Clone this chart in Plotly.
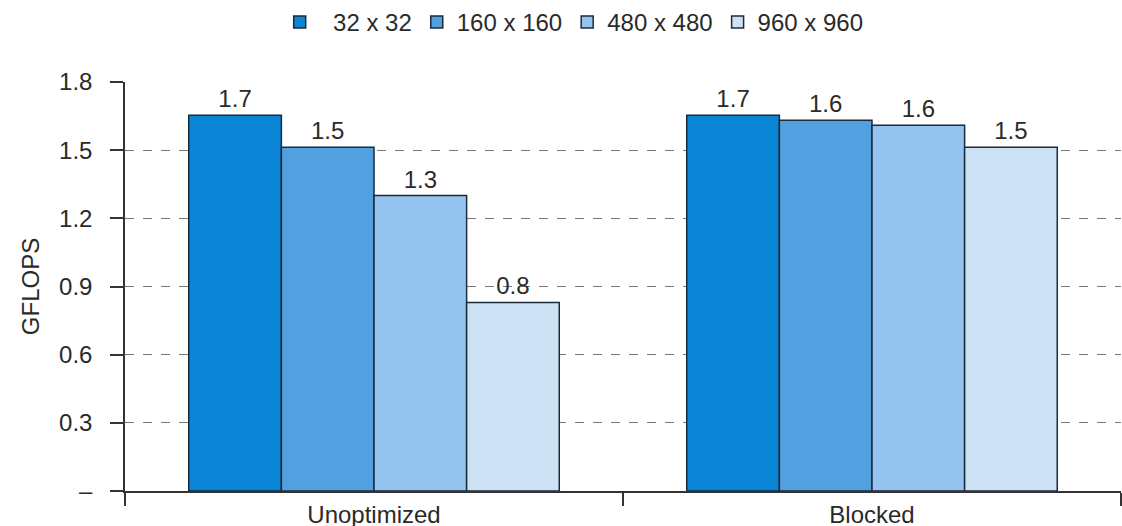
import plotly.graph_objects as go

categories = ["Unoptimized", "Blocked"]
series_names = ["\u00a0\u00a032 x 32", "160 x 160", "480 x 480", "960 x 960"]
values_32 = [1.654, 1.654]
values_160 = [1.513, 1.632]
values_480 = [1.30, 1.61]
values_960 = [0.83, 1.513]
colors = ["#0b86d6", "#53a0e1", "#94c3ef", "#cde1f5"]
ytick_vals = [0, 0.3, 0.6, 0.9, 1.2, 1.5, 1.8]
ytick_text = ["\u2013", "0.3", "0.6", "0.9", "1.2", "1.5", "1.8"]

FONT = "Liberation Sans, Arial, sans-serif"
TXT = "#2a2a2a"

fig = go.Figure()
for name, vals, col in zip(series_names, [values_32, values_160, values_480, values_960], colors):
    fig.add_trace(go.Bar(
        x=categories, y=vals, name=name,
        marker=dict(color=col, line=dict(color="#1c2b3a", width=1.5)),
        texttemplate="%{y:.1f}", textposition="outside",
        textfont=dict(size=24, color=TXT, family=FONT),
        cliponaxis=False,
    ))

fig.update_layout(
    width=1122, height=526,
    barmode="group", bargap=0.256, bargroupgap=0,
    plot_bgcolor="white", paper_bgcolor="white",
    margin=dict(l=125, r=1, t=82, b=35),
    font=dict(family=FONT, size=24, color=TXT),
    showlegend=True,
    legend=dict(orientation="h", x=0.451, xanchor="center", y=1.0, yref="container",
                yanchor="top", font=dict(size=24, color=TXT), traceorder="normal",
                itemwidth=30),
)
fig.update_xaxes(
    range=[-0.5, 1.5], showline=True, linecolor="#333", linewidth=1.5,
    ticks="outside", tickson="boundaries", ticklen=13, tickcolor="#333", tickwidth=1.5,
    showgrid=False, tickfont=dict(size=24, color=TXT), automargin=False,
    ticklabelstandoff=1,
)
fig.update_yaxes(
    range=[0, 1.8], tickvals=ytick_vals, ticktext=ytick_text,
    showline=True, linecolor="#333", linewidth=1.5,
    ticks="outside", ticklen=13, tickcolor="#333", tickwidth=1.5,
    showgrid=True, gridcolor="#777", griddash="dash", gridwidth=1,
    zeroline=False, tickfont=dict(size=24, color=TXT),
    ticklabelstandoff=13,
    title=dict(text="GFLOPS", font=dict(size=24, color=TXT), standoff=13),
    automargin=False,
)
fig.write_html(
    "out.html",
    config={"displayModeBar": False},
    post_script="document.body.style.margin='0';document.body.style.overflow='hidden';",
)
